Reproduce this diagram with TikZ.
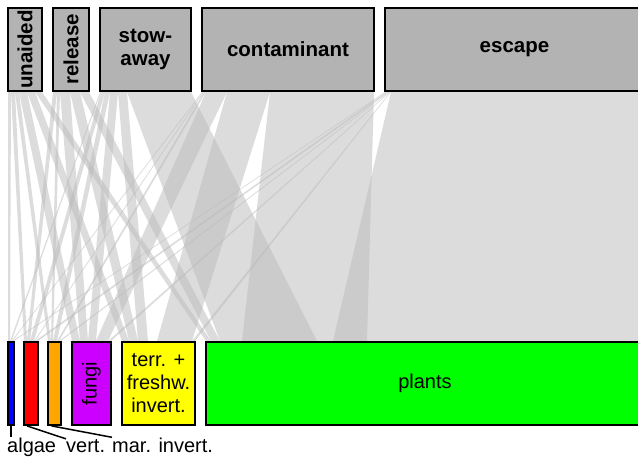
\documentclass[tikz,border=0pt]{standalone}
\usepackage{fontspec}
\setmainfont{Liberation Sans}
\definecolor{bandgray}{HTML}{BBBBBB}
\definecolor{topgray}{HTML}{B3B3B3}
\definecolor{calgae}{HTML}{0000FF}
\definecolor{cvert}{HTML}{FF0000}
\definecolor{cmar}{HTML}{FFA500}
\definecolor{cfungi}{HTML}{CC00FF}
\definecolor{cterr}{HTML}{FFFF00}
\definecolor{cplants}{HTML}{00FF00}
\newcommand\pband[4]{\fill[bandfill] (#1,92) -- (#2,92) -- (#4,341) -- (#3,341) -- cycle;}
\begin{document}
\begin{tikzpicture}[x=1pt,y=-1pt,
  bandfill/.style={fill=bandgray, fill opacity=0.5},
  box/.style={draw=black, line width=1.8pt, inner sep=0pt, minimum height=83pt, align=center},
  topbox/.style={box, fill=topgray, font=\fontsize{20.5}{23.5}\selectfont\bfseries},
  botbox/.style={box, font=\fontsize{20}{23}\selectfont},
  lab/.style={anchor=base west, inner sep=0pt, font=\fontsize{20}{23}\selectfont},
  leader/.style={draw=black, line width=1.5pt}]
\useasboundingbox (0,0) rectangle (638,457);
\clip (0,0) rectangle (638,457);
\fill[white] (0,0) rectangle (638,457);
% unaided
\pband{8}{11}{8}{10}
\pband{11}{15}{24}{27}
\pband{15}{19}{48}{51}
\pband{19}{27}{72}{80}
\pband{27}{35}{122}{129}
\pband{35}{42}{206}{211}
% release
\pband{53}{57}{27}{30}
\pband{57}{60}{51}{53}
\pband{60}{70}{80}{88}
\pband{70}{80}{129}{138}
\pband{80}{89}{211}{220}
% stow-away
\pband{100}{101}{10}{11.5}
\pband{101}{105}{30}{34}
\pband{105}{110}{53}{57}
\pband{110}{118}{88}{96}
\pband{118}{127}{138}{148}
\pband{127}{191}{220}{317}
% contaminant
\pband{202}{203}{11.5}{12.5}
\pband{203}{204}{34}{35}
\pband{204}{206}{57}{59}
\pband{206}{227}{96}{108}
\pband{227}{270}{157}{192}
\pband{270}{374}{242}{367}
% escape
\pband{385}{386}{12.5}{14}
\pband{386}{388.5}{35}{38}
\pband{388.5}{389.5}{59}{61}
\pband{389.5}{390.2}{108}{111}
\pband{390.2}{391}{192}{195}
\pband{391}{644}{333}{644}
% top boxes
\node[topbox, minimum width=34pt] (unaided) at (25,49.5) {\rotatebox{90}{unaided}};
\node[topbox, minimum width=36pt] (release) at (71,49.5) {\rotatebox{90}{release}};
\node[topbox, minimum width=91pt] (stow) at (145.5,49.5) {stow-\\away};
\node[topbox, minimum width=172pt] (contam) at (288,49.5) {contaminant};
\node[topbox, minimum width=259pt] (escape) at (514.5,49.5) {escape};
% bottom boxes
\node[botbox, fill=calgae, minimum width=6pt] (algae) at (11,383.5) {};
\node[botbox, fill=cvert, minimum width=14pt] (vert) at (31,383.5) {};
\node[botbox, fill=cmar, minimum width=13pt] (mar) at (54.5,383.5) {};
\node[botbox, fill=cfungi, minimum width=39pt] (fungi) at (91.5,383.5) {\rotatebox{90}{fungi}};
\node[botbox, fill=cterr, minimum width=73pt] (terr) at (158.5,383.5) {terr. +\\freshw.\\invert.};
\node[botbox, fill=cplants, minimum width=438pt] (plants) at (425,383.5) {plants};
% labels
\node[lab] (lalgae) at (7,452) {algae};
\node[lab] (lvert) at (66,452) {vert.};
\node[lab] (lmar) at (112,452) {mar. invert.};
\draw[leader] (algae.south) -- (algae.south |- lalgae.north);
\draw[leader] ([xshift=-4pt]vert.south) -- (lvert.north west);
\draw[leader] ([xshift=-3pt]mar.south) -- (lmar.north west);
\end{tikzpicture}
\end{document}
